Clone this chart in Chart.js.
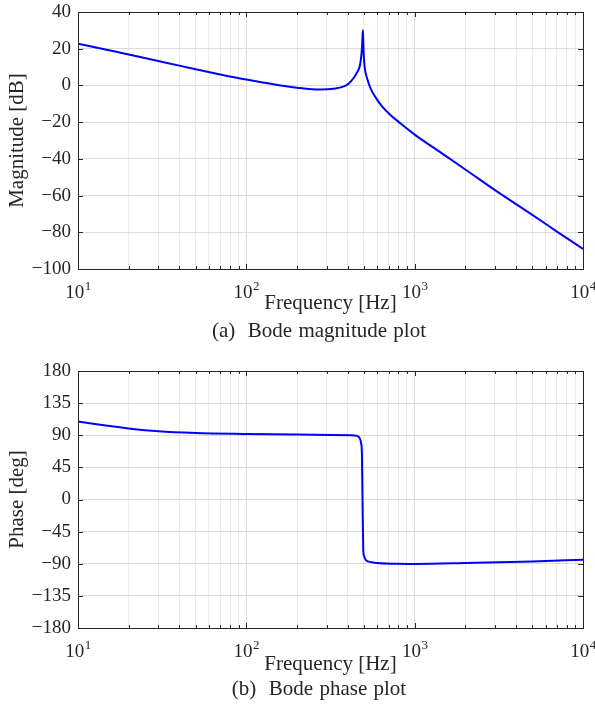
<!DOCTYPE html>
<html>
<head>
<meta charset="UTF-8">
<title>Bode plots</title>
<script src="https://cdn.jsdelivr.net/npm/chart.js"></script>
<style>
  body { margin: 0; background: #fff; }
  #page { position: relative; width: 595px; height: 705px; }
  .box { position: absolute; left: 0; }
  .caption { position: absolute; left: 169px; width: 300px; text-align: center;
             font-family: 'Liberation Serif', serif; font-size: 21px; line-height: 20px;
             color: #262626; word-spacing: 1px; white-space: nowrap; }
</style>
</head>
<body>
<div id="page">
  <div class="box" style="top:0"><canvas id="mag" width="595" height="345"></canvas></div>
  <div class="caption" style="top:320px">(a)&nbsp; Bode magnitude plot</div>
  <div class="box" style="top:350px"><canvas id="phase" width="595" height="355"></canvas></div>
  <div class="caption" style="top:678px">(b)&nbsp; Bode phase plot</div>
</div>
<script>
// values
const magFreq = [10, 15, 20, 30, 40, 50, 70, 100, 150, 200, 275, 330, 380, 406, 435, 456, 473, 481, 486, 490, 492.6, 495, 499, 506, 523, 547, 586, 642, 720, 825, 1000, 1430, 2000, 3000, 5000, 7000, 10000];
const magDb = [22.7, 19.3, 16.9, 13.3, 10.8, 8.8, 6.0, 3.2, 0.4, -1.2, -2.2, -1.8, -0.5, 1.1, 4.2, 7.3, 10.9, 15.5, 20, 26.4, 30, 24.5, 15.5, 9.1, 3.5, -1.6, -6.5, -11.6, -16.2, -20.7, -26.8, -36.6, -45.8, -57.0, -70.5, -79.6, -89.1];

const phaseFreq = [10, 15, 20, 30, 50, 100, 200, 316, 416, 456, 473, 481, 486, 490, 495, 499, 511, 535, 573, 788, 1000, 2000, 5000, 10000];
const phaseDeg = [109.2, 103.3, 99.6, 95.7, 93.3, 91.9, 90.9, 90.4, 90, 89.1, 85.3, 78.3, 64.3, -1.1, -71.2, -78.2, -84.3, -87.1, -88.5, -90, -90.2, -89, -86.7, -84.4];

const decades = [10, 100, 1000, 10000];
const minorSteps = [2, 3, 4, 5, 6, 7, 8, 9];
const magTicks = [-100, -80, -60, -40, -20, 0, 20, 40];
const phaseTicks = [-180, -135, -90, -45, 0, 45, 90, 135, 180];

const FONT = "'Liberation Serif', 'Times New Roman', serif";
const INK = '#262626';

// major + minor positions for the log grid
const freqGrid = [];
decades.forEach((d, i) => {
  freqGrid.push({ value: d, major: true });
  if (i < decades.length - 1) minorSteps.forEach(m => freqGrid.push({ value: d * m, major: false }));
});

// box, inward ticks and 10^n labels
const framePlugin = {
  id: 'frame',
  afterDraw(chart) {
    const { ctx, chartArea: a, scales: { x, y } } = chart;
    ctx.save();
    ctx.strokeStyle = INK;
    ctx.lineWidth = 1;
    ctx.beginPath();
    x.ticks.forEach(t => {
      const px = Math.round(x.getPixelForValue(t.value)) + 0.5;
      const len = t.major ? 5 : 3;
      ctx.moveTo(px, a.bottom); ctx.lineTo(px, a.bottom - len);
      ctx.moveTo(px, a.top); ctx.lineTo(px, a.top + len);
    });
    y.ticks.forEach(t => {
      const py = Math.round(y.getPixelForValue(t.value)) + 0.5;
      ctx.moveTo(a.left, py); ctx.lineTo(a.left + 5, py);
      ctx.moveTo(a.right, py); ctx.lineTo(a.right - 5, py);
    });
    ctx.stroke();
    ctx.strokeRect(Math.round(a.left) + 0.5, Math.round(a.top) + 0.5,
                   Math.round(a.right - a.left), Math.round(a.bottom - a.top));

    ctx.fillStyle = INK;
    ctx.textBaseline = 'alphabetic';
    ctx.textAlign = 'left';
    decades.forEach(f => {
      const px = x.getPixelForValue(f);
      const ex = String(Math.round(Math.log10(f)));
      ctx.font = '19px ' + FONT;
      const w1 = ctx.measureText('10').width;
      ctx.font = '13px ' + FONT;
      const w2 = ctx.measureText(ex).width;
      const x0 = px - (w1 + w2) / 2;
      const base = a.bottom + 29;
      ctx.font = '19px ' + FONT;
      ctx.fillText('10', x0, base);
      ctx.font = '13px ' + FONT;
      ctx.fillText(ex, x0 + w1 + 0.5, base - 8);
    });
    ctx.restore();
  }
};

function makeChart(id, freq, vals, ticks, yTitle, xHeight, padTop, xTitlePad) {
  return new Chart(document.getElementById(id), {
    type: 'line',
    data: {
      datasets: [{
        data: freq.map((f, i) => ({ x: f, y: vals[i] })),
        borderColor: '#0000ff',
        borderWidth: 2,
        pointRadius: 0,
        cubicInterpolationMode: 'monotone',
        fill: false
      }]
    },
    options: {
      responsive: false,
      animation: false,
      layout: { padding: { left: 0, right: 12, top: padTop, bottom: 0 } },
      plugins: { legend: { display: false }, tooltip: { enabled: false } },
      scales: {
        x: {
          type: 'logarithmic',
          min: decades[0],
          max: decades[decades.length - 1],
          afterBuildTicks: s => { s.ticks = freqGrid.map(t => ({ ...t })); },
          afterFit: s => { s.height = xHeight; s.paddingLeft = 0; s.paddingRight = 0; },
          ticks: { display: false },
          grid: {
            drawTicks: false,
            color: c => (c.tick && c.tick.major) ? '#dcdcdc' : '#ebebeb',
            lineWidth: 1
          },
          border: { display: false },
          title: {
            display: true, text: 'Frequency [Hz]', color: INK,
            font: { family: FONT, size: 21 }, padding: { top: 0, bottom: xTitlePad }
          }
        },
        y: {
          min: ticks[0],
          max: ticks[ticks.length - 1],
          afterBuildTicks: s => { s.ticks = ticks.map(v => ({ value: v })); },
          afterFit: s => { s.width = 78; s.paddingTop = 0; s.paddingBottom = 0; },
          ticks: {
            color: INK, padding: 7,
            font: { family: FONT, size: 19 },
            callback: v => v < 0 ? '\u2212' + (-v) : String(v)
          },
          grid: { drawTicks: false, color: '#dcdcdc', lineWidth: 1 },
          border: { display: false },
          title: {
            display: true, text: yTitle, color: INK,
            font: { family: FONT, size: 21 }, padding: { top: 5, bottom: 0 }
          }
        }
      }
    },
    plugins: [framePlugin]
  });
}

makeChart('mag', magFreq, magDb, magTicks, 'Magnitude [dB]', 76, 12, 29);
makeChart('phase', phaseFreq, phaseDeg, phaseTicks, 'Phase [deg]', 77, 21, 28);
</script>
</body>
</html>
